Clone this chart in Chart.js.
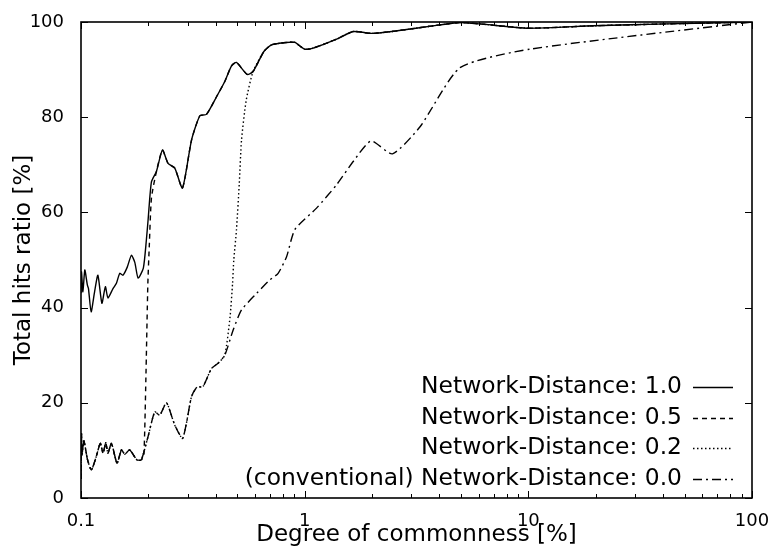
<!DOCTYPE html>
<html>
<head>
<meta charset="utf-8">
<script src="https://cdn.jsdelivr.net/npm/chart.js@4.4.0/dist/chart.umd.min.js"></script>
<style>
  html, body { margin: 0; padding: 0; background: #fff; }
  #wrap { width: 775px; height: 550px; }
</style>
</head>
<body>
<div id="wrap"><canvas id="hitsChart"></canvas></div>
<script>
// axis ticks
const xTickValues = [0.1, 1, 10, 100];
const xTickLabels = ['0.1', '1', '10', '100'];
const yTickValues = [0, 20, 40, 60, 80, 100];

const seriesLabels = [
  'Network-Distance: 1.0',
  'Network-Distance: 0.5',
  'Network-Distance: 0.2',
  '(conventional) Network-Distance: 0.0'
];

// Network-Distance 1.0
const x10 = [0.1, 0.1005, 0.102, 0.104, 0.1068, 0.108, 0.111, 0.115, 0.119, 0.124, 0.1285, 0.132, 0.139, 0.144,
  0.149, 0.154, 0.161, 0.168, 0.174, 0.18, 0.19, 0.196, 0.1995, 0.2065, 0.2174, 0.2313, 0.245, 0.2626, 0.2842,
  0.312, 0.34, 0.364, 0.4036, 0.4394, 0.471, 0.4955, 0.553, 0.588, 0.657, 0.711, 0.83, 0.904, 1.0, 1.09, 1.389,
  1.648, 1.99, 2.45, 4.03, 4.95, 6.08, 10, 19.5, 41.6, 100];
const y10 = [43, 47.5, 43.3, 47.9, 44.7, 44.0, 39.1, 43.3, 46.8, 40.9, 44.4, 42.0, 44.0, 45.1,
  47.2, 46.8, 48.5, 51.0, 49.5, 46.2, 48.3, 54.2, 58.4, 66.4, 68.6, 73.1, 70.3, 69.3, 65.1,
  75.2, 80.3, 80.6, 84.3, 87.5, 90.8, 91.5, 89.0, 89.6, 93.8, 95.2, 95.7, 95.7, 94.3, 94.5, 96.4,
  98.0, 97.6, 98.0, 99.4, 99.9, 99.6, 98.7, 99.2, 99.6, 100];

// Network-Distance 0.5
const x05 = [0.1, 0.1005, 0.101, 0.103, 0.107, 0.1113, 0.117, 0.122, 0.1255, 0.129, 0.132, 0.1368, 0.1449,
  0.1516, 0.157, 0.165, 0.178, 0.186, 0.191, 0.195, 0.199, 0.202, 0.2065, 0.2174, 0.2313, 0.245, 0.2626, 0.2842,
  0.312, 0.34, 0.364, 0.4036, 0.4394, 0.471, 0.4955, 0.553, 0.588, 0.657, 0.711, 0.83, 0.904, 1.0, 1.09, 1.389,
  1.648, 1.99, 2.45, 4.03, 4.95, 6.08, 10, 19.5, 41.6, 100];
const y05 = [4, 13.5, 9, 12, 8, 5.9, 8.7, 11.5, 9.4, 11.6, 9.4, 11.5, 7.3,
  10.1, 9.2, 10.1, 8.0, 8.0, 9, 25, 45, 53, 63, 68.6, 73.1, 70.3, 69.3, 65.1,
  75.2, 80.3, 80.6, 84.3, 87.5, 90.8, 91.5, 89.0, 89.6, 93.8, 95.2, 95.7, 95.7, 94.3, 94.5, 96.4,
  98.0, 97.6, 98.0, 99.4, 99.9, 99.6, 98.7, 99.2, 99.6, 100];

// Network-Distance 0.2
const x02 = [0.1, 0.1005, 0.101, 0.103, 0.107, 0.1113, 0.117, 0.122, 0.1255, 0.129, 0.132, 0.1368, 0.1449,
  0.1516, 0.157, 0.165, 0.178, 0.186, 0.1994, 0.2137, 0.225, 0.241, 0.2626, 0.2842, 0.296, 0.312, 0.33, 0.351,
  0.383, 0.41, 0.4394, 0.464, 0.476, 0.482, 0.4955, 0.51, 0.522, 0.548, 0.588, 0.657, 0.711, 0.83, 0.904, 1.0,
  1.09, 1.389, 1.648, 1.99, 2.45, 4.03, 4.95, 6.08, 10, 19.5, 41.6, 100];
const y02 = [4, 13.5, 9, 12, 8, 5.9, 8.7, 11.5, 9.4, 11.6, 9.4, 11.5, 7.3,
  10.1, 9.2, 10.1, 8.0, 8.0, 12.9, 18.1, 17.4, 20.0, 15.3, 12.5, 15.7, 21.3, 23.3, 23.4,
  27.2, 28.3, 30.0, 38.1, 45.1, 50, 56.3, 66, 75.2, 83.6, 89.6, 93.8, 95.2, 95.7, 95.7, 94.3,
  94.5, 96.4, 98.0, 97.6, 98.0, 99.4, 99.9, 99.6, 98.7, 99.2, 99.6, 100];

// Network-Distance 0.0 (conventional)
const x00 = [0.1, 0.1005, 0.101, 0.103, 0.107, 0.1113, 0.117, 0.122, 0.1255, 0.129, 0.132, 0.1368, 0.1449,
  0.1516, 0.157, 0.165, 0.178, 0.186, 0.1994, 0.2137, 0.225, 0.241, 0.2626, 0.2842, 0.296, 0.312, 0.33, 0.351,
  0.383, 0.41, 0.4394, 0.479, 0.522, 0.61, 0.698, 0.761, 0.83, 0.904, 1.13, 1.389, 1.648, 1.98, 2.47, 3.28,
  4.95, 10.2, 100];
const y00 = [4, 13.5, 9, 12, 8, 5.9, 8.7, 11.5, 9.4, 11.6, 9.4, 11.5, 7.3,
  10.1, 9.2, 10.1, 8.0, 8.0, 12.9, 18.1, 17.4, 20.0, 15.3, 12.5, 15.7, 21.3, 23.3, 23.4,
  27.2, 28.3, 30.0, 35.3, 39.5, 43.0, 45.8, 47.2, 50.7, 56.4, 60.9, 65.8, 70.7, 75.0, 72.3, 78.0,
  90.4, 94.3, 100];

const dashes = [[], [5, 4], [1.5, 2.5], [9, 4, 2, 4]];

function toPoints(xs, ys) {
  return xs.map((x, i) => ({ x: x, y: ys[i] }));
}

const seriesData = [toPoints(x10, y10), toPoints(x05, y05), toPoints(x02, y02), toPoints(x00, y00)];

// frame and inward tick marks like the original plot
const frameTicks = {
  id: 'frameTicks',
  afterDatasetsDraw(chart) {
    const { ctx, chartArea: a, scales: { x, y } } = chart;
    ctx.save();
    ctx.strokeStyle = '#000';
    ctx.lineWidth = 1;
    ctx.beginPath();
    xTickValues.forEach(v => {
      const px = Math.round(x.getPixelForValue(v)) + 0.5;
      ctx.moveTo(px, a.bottom); ctx.lineTo(px, a.bottom - 7);
      ctx.moveTo(px, a.top); ctx.lineTo(px, a.top + 7);
    });
    for (let d = 0; d < xTickValues.length - 1; d++) {
      for (let m = 2; m < 10; m++) {
        const px = Math.round(x.getPixelForValue(xTickValues[d] * m)) + 0.5;
        ctx.moveTo(px, a.bottom); ctx.lineTo(px, a.bottom - 4);
        ctx.moveTo(px, a.top); ctx.lineTo(px, a.top + 4);
      }
    }
    yTickValues.forEach(v => {
      const py = Math.round(y.getPixelForValue(v)) + 0.5;
      ctx.moveTo(a.left, py); ctx.lineTo(a.left + 7, py);
      ctx.moveTo(a.right, py); ctx.lineTo(a.right - 7, py);
    });
    ctx.stroke();
    ctx.lineWidth = 1.6;
    ctx.strokeRect(a.left, a.top, a.right - a.left, a.bottom - a.top);
    ctx.restore();
  }
};

// legend inside the plot, bottom right, text right-aligned with sample on the right
const keyBox = {
  id: 'keyBox',
  afterDraw(chart) {
    const { ctx, chartArea: a } = chart;
    ctx.save();
    ctx.font = '23.4px "DejaVu Sans"';
    ctx.fillStyle = '#000';
    ctx.textAlign = 'right';
    ctx.textBaseline = 'middle';
    chart.data.datasets.forEach((ds, i) => {
      const yy = a.bottom - 111 + i * 30.5;
      ctx.fillText(ds.label, a.right - 70, yy);
      ctx.beginPath();
      ctx.setLineDash(ds.borderDash);
      ctx.lineWidth = ds.borderWidth;
      ctx.strokeStyle = ds.borderColor;
      ctx.moveTo(a.right - 59, Math.round(yy) + 0.5);
      ctx.lineTo(a.right - 19, Math.round(yy) + 0.5);
      ctx.stroke();
    });
    ctx.restore();
  }
};

const ctx = document.getElementById('hitsChart').getContext('2d');
const hitsChart = new Chart(ctx, {
  type: 'line',
  data: {
    datasets: seriesLabels.map((label, i) => ({
      label: label,
      data: seriesData[i],
      borderColor: '#000',
      borderWidth: 1.4,
      borderDash: dashes[i],
      pointRadius: 0,
      fill: false,
      tension: 0.2
    }))
  },
  options: {
    responsive: true,
    maintainAspectRatio: false,
    animation: false,
    devicePixelRatio: 1,
    layout: { padding: { left: 0, right: 23, top: 22, bottom: 0 } },
    plugins: {
      legend: { display: false },
      tooltip: { enabled: false }
    },
    scales: {
      x: {
        type: 'logarithmic',
        min: 0.1,
        max: 100,
        grid: { display: false },
        border: { display: false },
        afterBuildTicks: (scale) => { scale.ticks = xTickValues.map(v => ({ value: v })); },
        afterFit: (scale) => { scale.height = 52; scale.paddingLeft = 0; scale.paddingRight = 0; },
        ticks: {
          color: '#000',
          font: { family: 'DejaVu Sans', size: 18 },
          padding: 5,
          maxRotation: 0,
          autoSkip: false,
          callback: (v) => xTickLabels[xTickValues.indexOf(v)]
        },
        title: {
          display: true,
          text: 'Degree of commonness [%]',
          color: '#000',
          font: { family: 'DejaVu Sans', size: 23, lineHeight: 1.2 },
          padding: { top: 0, bottom: 1 }
        }
      },
      y: {
        min: 0,
        max: 100,
        grid: { display: false },
        border: { display: false },
        afterFit: (scale) => { scale.width = 81; scale.paddingTop = 0; scale.paddingBottom = 0; },
        ticks: {
          stepSize: 20,
          color: '#000',
          font: { family: 'DejaVu Sans', size: 18 },
          padding: 9
        },
        title: {
          display: true,
          text: 'Total hits ratio [%]',
          color: '#000',
          font: { family: 'DejaVu Sans', size: 23, lineHeight: 1.2 },
          padding: { top: 10, bottom: 0 }
        }
      }
    }
  },
  plugins: [frameTicks, keyBox]
});
</script>
</body>
</html>
